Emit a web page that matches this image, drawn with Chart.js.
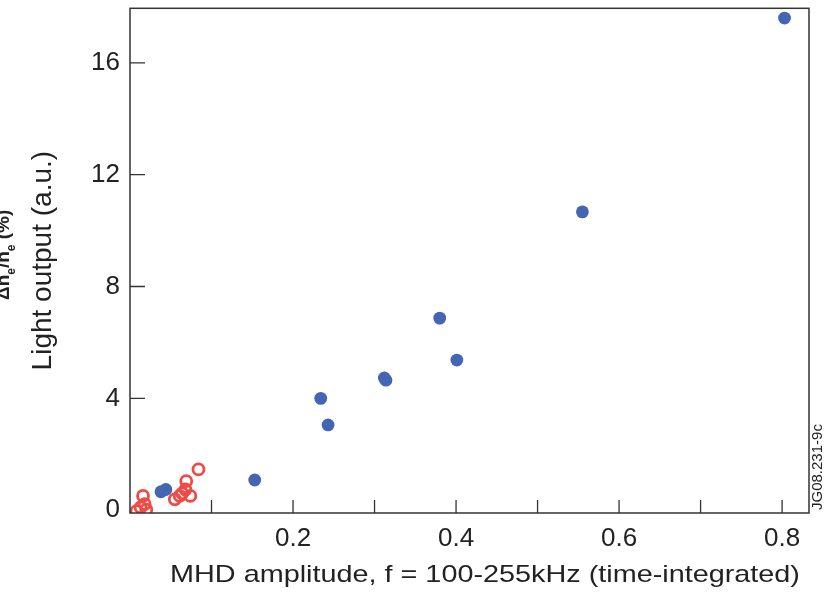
<!DOCTYPE html>
<html>
<head>
<meta charset="utf-8">
<script src="https://cdn.jsdelivr.net/npm/chart.js@4"></script>
<style>
  html, body { margin: 0; padding: 0; background: #fff; }
  #wrap { width: 828px; height: 593px; position: relative; }
</style>
</head>
<body>
<div id="wrap"><canvas id="c" width="828" height="593"></canvas></div>
<script>
// ---- data ----
const blueX = [0.803, 0.555, 0.380, 0.401, 0.312, 0.314, 0.234, 0.243, 0.153, 0.038, 0.044];
const blueY = [17.60, 10.67, 6.87, 5.37, 4.73, 4.65, 4.00, 3.05, 1.08, 0.66, 0.74];
const redX = [0.084, 0.069, 0.068, 0.074, 0.061, 0.055, 0.064, 0.016, 0.018, 0.013, 0.020, 0.008];
const redY = [1.46, 1.04, 0.74, 0.51, 0.51, 0.39, 0.60, 0.51, 0.22, 0.10, 0.02, -0.03];
const xTickValues = [0.1, 0.2, 0.3, 0.4, 0.5, 0.6, 0.7, 0.8];
const xTickLabels = {0.2: '0.2', 0.4: '0.4', 0.6: '0.6', 0.8: '0.8'};
const yTickValues = [0, 4, 8, 12, 16];
const yTickLabels = ['0', '4', '8', '12', '16'];
const xTitle = 'MHD amplitude, f = 100-255kHz (time-integrated)';
const yTitle = 'Light output (a.u.)';
const figId = 'JG08.231-9c';

const toPts = (xs, ys) => xs.map((x, i) => ({x: x, y: ys[i]}));

const frame = {
  id: 'frame',
  afterDraw(chart) {
    const ctx = chart.ctx;
    const a = chart.chartArea;
    const xs = chart.scales.x, ys = chart.scales.y;
    ctx.save();
    ctx.strokeStyle = '#333';
    ctx.lineWidth = 1.5;
    ctx.strokeRect(a.left, a.top, a.right - a.left, a.bottom - a.top);
    ctx.lineWidth = 1.3;
    ctx.beginPath();
    yTickValues.forEach(v => {
      if (v === 0) return;
      const p = ys.getPixelForValue(v);
      ctx.moveTo(a.left, p); ctx.lineTo(a.left + 15, p);
    });
    xTickValues.forEach(v => {
      const p = xs.getPixelForValue(v);
      ctx.moveTo(p, a.bottom); ctx.lineTo(p, a.bottom - 13);
    });
    ctx.stroke();

    // x-axis title (horizontally stretched as in the reference)
    ctx.fillStyle = '#222';
    ctx.save();
    ctx.translate(485, 582);
    ctx.scale(1.2, 1);
    ctx.font = '24px "Liberation Sans", Arial, sans-serif';
    ctx.textAlign = 'center';
    ctx.textBaseline = 'alphabetic';
    ctx.fillText(xTitle, 0, 0);
    ctx.restore();

    // figure id on right edge
    ctx.save();
    ctx.translate(822, 510);
    ctx.rotate(-Math.PI / 2);
    ctx.font = '15px "Liberation Sans", Arial, sans-serif';
    ctx.textAlign = 'left';
    ctx.textBaseline = 'alphabetic';
    ctx.fillText(figId, 0, 0);
    ctx.restore();

    // clipped bold label at the far left edge
    ctx.save();
    ctx.translate(9, 300);
    ctx.rotate(-Math.PI / 2);
    ctx.textBaseline = 'alphabetic';
    ctx.textAlign = 'left';
    const big = 'bold 19px "Liberation Sans", Arial, sans-serif';
    const small = 'bold 12px "Liberation Sans", Arial, sans-serif';
    const parts = [['Δn', big, 0], ['e', small, 6], ['/n', big, 0], ['e', small, 6], [' (%)', big, 0]];
    let px = 0;
    parts.forEach(([t, f, dy]) => {
      ctx.font = f;
      ctx.fillText(t, px, dy);
      px += ctx.measureText(t).width;
    });
    ctx.restore();
    ctx.restore();
  }
};

new Chart(document.getElementById('c'), {
  type: 'scatter',
  data: {
    datasets: [
      {
        label: 'red',
        data: toPts(redX, redY),
        pointStyle: 'circle',
        pointRadius: 5.5,
        pointHoverRadius: 5.5,
        borderWidth: 2.8,
        borderColor: '#ef4b45',
        backgroundColor: 'rgba(255,255,255,0)'
      },
      {
        label: 'blue',
        data: toPts(blueX, blueY),
        pointStyle: 'circle',
        pointRadius: 6.4,
        pointHoverRadius: 6.4,
        borderWidth: 0,
        backgroundColor: '#4465b2',
        borderColor: '#4465b2'
      }
    ]
  },
  options: {
    responsive: false,
    animation: false,
    devicePixelRatio: 1,
    layout: { padding: { top: 7, right: 19, left: 0, bottom: 0 } },
    plugins: { legend: { display: false }, tooltip: { enabled: false } },
    scales: {
      x: {
        type: 'linear',
        min: 0,
        max: 0.833,
        afterFit: s => { s.height = 80; s.paddingLeft = 0; s.paddingRight = 0; },
        afterBuildTicks: s => { s.ticks = xTickValues.map(v => ({value: v})); },
        grid: { display: false, drawTicks: false },
        border: { display: false },
        ticks: {
          padding: 10,
          color: '#222',
          font: { family: '"Liberation Sans", Arial, sans-serif', size: 26 },
          maxRotation: 0,
          autoSkip: false,
          callback: v => xTickLabels[Math.round(v * 10) / 10] || ''
        }
      },
      y: {
        type: 'linear',
        min: -0.1,
        max: 17.95,
        afterFit: s => { s.width = 130; s.paddingTop = 0; s.paddingBottom = 0; },
        afterBuildTicks: s => { s.ticks = yTickValues.map(v => ({value: v})); },
        grid: { display: false, drawTicks: false },
        border: { display: false },
        title: {
          display: true,
          text: yTitle,
          color: '#222',
          font: { family: '"Liberation Sans", Arial, sans-serif', size: 28 },
          padding: { top: 26, bottom: 0 }
        },
        ticks: {
          padding: 10,
          color: '#222',
          font: { family: '"Liberation Sans", Arial, sans-serif', size: 26 },
          autoSkip: false,
          callback: v => { const i = yTickValues.indexOf(v); return i >= 0 ? yTickLabels[i] : ''; }
        }
      }
    }
  },
  plugins: [frame]
});
</script>
</body>
</html>
